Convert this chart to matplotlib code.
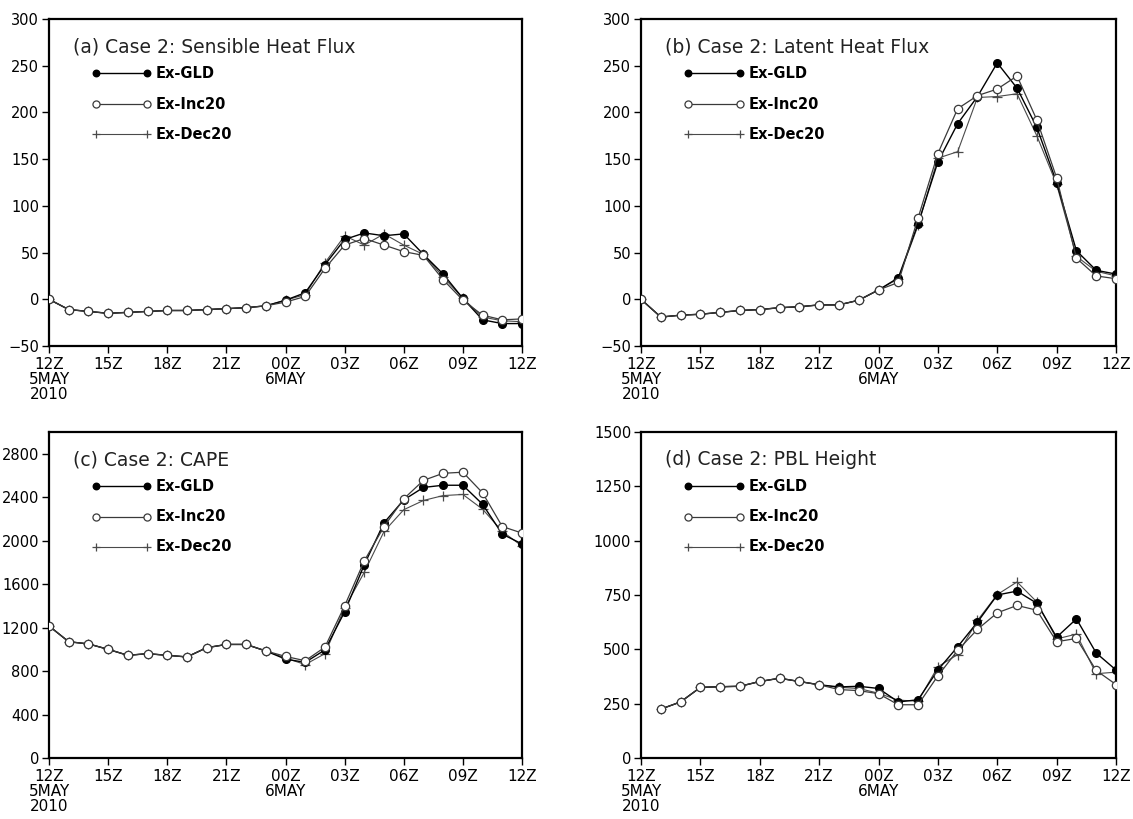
"""Case 2 diurnal series: sensible/latent heat flux, CAPE and PBL height
for the three land-surface experiments (Ex-GLD, Ex-Inc20, Ex-Dec20)."""
import matplotlib
matplotlib.use("Agg")
import matplotlib.pyplot as plt

# hours since 12Z 5 May 2010
hours = list(range(25))
xtick_pos = [0, 3, 6, 9, 12, 15, 18, 21, 24]
xtick_labels = ["12Z\n5MAY\n2010", "15Z", "18Z", "21Z", "00Z\n6MAY",
                "03Z", "06Z", "09Z", "12Z"]

# (a) sensible heat flux
shf_gld = [0, -11, -13, -15, -14, -13, -12, -12, -11, -10, -9, -7, -1,
           7, 37, 64, 71, 68, 70, 48, 27, 1, -22, -26, -26]
shf_inc = [0, -11, -13, -15, -14, -13, -12, -12, -11, -10, -9, -7, -3,
           3, 33, 58, 65, 58, 51, 47, 21, -1, -17, -22, -21]
shf_dec = [0, -11, -13, -15, -14, -13, -12, -12, -11, -10, -9, -7, -1,
           5, 39, 68, 58, 70, 58, 48, 24, 1, -19, -23, -24]

# (b) latent heat flux
lhf_gld = [0, -19, -17, -16, -14, -12, -11, -9, -8, -6, -6, -1, 10,
           23, 81, 147, 188, 217, 253, 226, 184, 125, 52, 31, 27]
lhf_inc = [0, -19, -17, -16, -14, -12, -11, -9, -8, -6, -6, -1, 10,
           18, 87, 156, 204, 218, 225, 239, 192, 130, 44, 25, 22]
lhf_dec = [0, -19, -17, -16, -14, -12, -11, -9, -8, -6, -6, -1, 10,
           22, 79, 151, 158, 216, 217, 220, 175, 123, 46, 30, 25]

# (c) CAPE
cape_gld = [1215, 1070, 1050, 1000, 945, 960, 945, 930, 1015, 1045, 1045, 985, 910,
            880, 995, 1345, 1780, 2165, 2375, 2490, 2510, 2510, 2335, 2060, 1970]
cape_inc = [1215, 1070, 1050, 1000, 945, 960, 945, 930, 1015, 1045, 1045, 985, 935,
            895, 1020, 1400, 1815, 2130, 2385, 2555, 2620, 2630, 2440, 2130, 2070]
cape_dec = [1215, 1070, 1050, 1000, 945, 960, 945, 930, 1015, 1045, 1045, 985, 920,
            860, 960, 1380, 1710, 2085, 2285, 2370, 2415, 2425, 2290, 2085, 1950]

# (d) PBL height (no value at 12Z)
pbl_hours = hours[1:]
pbl_gld = [225, 258, 325, 328, 330, 352, 367, 352, 337, 327, 330, 320,
           258, 268, 405, 512, 625, 750, 768, 712, 556, 640, 483, 405]
pbl_inc = [225, 258, 325, 328, 330, 352, 367, 352, 337, 315, 310, 296,
           245, 245, 378, 495, 592, 668, 702, 680, 535, 550, 403, 338]
pbl_dec = [225, 258, 325, 328, 330, 352, 367, 352, 337, 325, 320, 298,
           266, 262, 420, 476, 633, 752, 810, 718, 548, 570, 388, 395]

series_names = ["Ex-GLD", "Ex-Inc20", "Ex-Dec20"]

panels = [
    ("(a) Case 2: Sensible Heat Flux", hours, [shf_gld, shf_inc, shf_dec],
     (-50, 300), list(range(-50, 301, 50))),
    ("(b) Case 2: Latent Heat Flux", hours, [lhf_gld, lhf_inc, lhf_dec],
     (-50, 300), list(range(-50, 301, 50))),
    ("(c) Case 2: CAPE", hours, [cape_gld, cape_inc, cape_dec],
     (0, 3000), list(range(0, 2801, 400))),
    ("(d) Case 2: PBL Height", pbl_hours, [pbl_gld, pbl_inc, pbl_dec],
     (0, 1500), list(range(0, 1501, 250))),
]

STYLES = [
    dict(color="black", lw=1.0, marker="o", ms=5.5, mfc="black", mec="black", zorder=3),
    dict(color="#3a3a3a", lw=0.9, marker="o", ms=6.0, mfc="white", mec="#3a3a3a",
         mew=0.9, zorder=4),
    dict(color="#4a4a4a", lw=0.8, marker="+", ms=7.5, mew=0.9, zorder=2),
]
ORDER = [0, 2, 1]  # open circles drawn last, on top

TICK_FONT = "DejaVu Sans"

W, H = 1133, 819
# axes boxes in pixels: left, top, right, bottom
boxes = [(49, 19, 522, 346), (641, 19, 1116, 346),
         (49, 432, 522, 758), (641, 432, 1116, 758)]

fig = plt.figure(figsize=(W / 100, H / 100), dpi=100)

for (title, xs, ys, ylim, yticks), (x0, y0, x1, y1) in zip(panels, boxes):
    ax = fig.add_axes([x0 / W, 1 - y1 / H, (x1 - x0) / W, (y1 - y0) / H])
    for i in ORDER:
        ax.plot(xs, ys[i], **STYLES[i])
    ax.set_xlim(0, 24)
    ax.set_ylim(*ylim)
    ax.set_xticks(xtick_pos)
    ax.set_xticklabels(xtick_labels, family=TICK_FONT, fontsize=11, linespacing=1.0)
    ax.set_yticks(yticks)
    for lab in ax.get_yticklabels():
        lab.set_family(TICK_FONT)
        lab.set_fontsize(10.5)
    ax.tick_params(axis="x", direction="out", length=5, width=1.0, pad=3)
    ax.tick_params(axis="y", direction="out", length=5, width=1.0, pad=2)
    for sp in ax.spines.values():
        sp.set_linewidth(1.6)

    ax.text(0.050, 0.915, title, transform=ax.transAxes, fontsize=13.5,
            ha="left", va="center", color="#222222")
    # hand-drawn legend: marker at both ends of a short line
    for k, ly in enumerate([0.834, 0.740, 0.648]):
        st = dict(STYLES[k])
        st["ms"] = st["ms"] * 0.85
        ax.plot([0.099, 0.208], [ly, ly], transform=ax.transAxes, clip_on=False, **st)
        ax.text(0.226, ly, series_names[k], transform=ax.transAxes, fontsize=10.5,
                fontweight="bold", family=TICK_FONT, ha="left", va="center")

fig.savefig("out.png", dpi=100)
